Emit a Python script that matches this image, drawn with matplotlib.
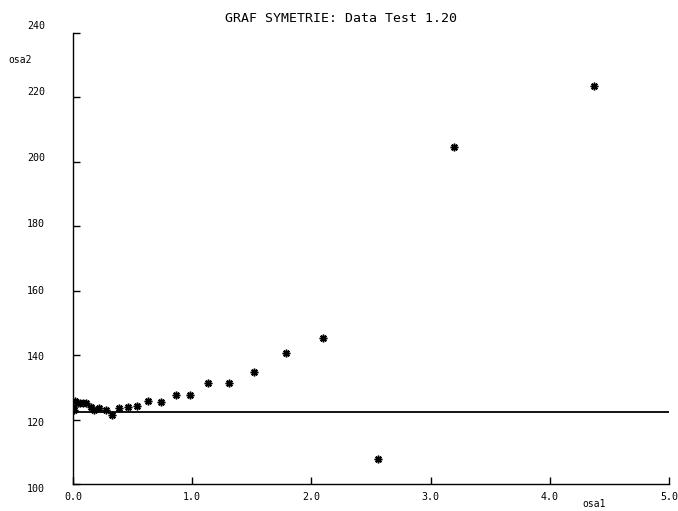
import matplotlib
matplotlib.use("Agg")
import matplotlib.pyplot as plt
from matplotlib.transforms import ScaledTranslation

# Data
osa1 = [0.00, 0.01, 0.02, 0.04, 0.06, 0.08, 0.11, 0.15, 0.18, 0.22, 0.28,
        0.33, 0.39, 0.46, 0.54, 0.63, 0.74, 0.86, 0.98, 1.13, 1.31, 1.52,
        1.79, 2.10, 2.56, 3.20, 4.37]
osa2 = [124.0, 123.0, 125.8, 125.2, 125.2, 125.2, 125.2, 123.9, 123.0, 123.6, 123.0,
        121.4, 123.6, 123.9, 124.2, 125.8, 125.5, 127.6, 127.6, 131.4, 131.4, 134.8,
        140.7, 145.3, 107.8, 204.7, 223.6]
ref_level = 122.4

x_ticks = [0, 1, 2, 3, 4, 5]
x_labels = ["0.0", "1.0", "2.0", "3.0", "4.0", "5.0"]
y_ticks = [100, 120, 140, 160, 180, 200, 220, 240]
y_labels = ["100", "120", "140", "160", "180", "200", "220", "240"]

title = "GRAF SYMETRIE: Data Test 1.20"

mono = ["DejaVu Sans Mono"]

fig = plt.figure(figsize=(6.78, 5.11), dpi=100)
ax = fig.add_axes([73/678, 27/511, (669-73)/678, (484-33)/511])

ax.set_xlim(0, 5)
ax.set_ylim(100, 240)

ax.plot(osa1, osa2, linestyle="none", marker=(8, 2, 0), markersize=5.5,
        markeredgewidth=1.1, color="black")
ax.plot(osa1, osa2, linestyle="none", marker="o", markersize=2.2, color="black")
ax.hlines(ref_level, 0, 5, color="black", linewidth=1.3)

for s in ["top", "right"]:
    ax.spines[s].set_visible(False)
for s in ["left", "bottom"]:
    ax.spines[s].set_linewidth(1.0)
    ax.spines[s].set_color("black")

ax.set_xticks(x_ticks)
ax.set_xticklabels(x_labels, family=mono, fontsize=7.2)
ax.set_yticks(y_ticks)
ax.set_yticklabels(y_labels, family=mono, fontsize=7.2)
ax.tick_params(axis="x", direction="in", length=5, width=1, pad=5.5)
ax.tick_params(axis="y", direction="in", length=5, width=1, pad=20)

# the original program spaces its y labels slightly wider than its ticks
for v, lab in zip(y_ticks, ax.get_yticklabels()):
    shift_px = 8 - (240 - v) / 140 * 12
    lab.set_transform(lab.get_transform() +
                      ScaledTranslation(0, shift_px / 100, fig.dpi_scale_trans))

fig.text(341/678, 1 - 18/511, title, ha="center", va="center",
         family=mono, fontsize=9.5)
fig.text(20/678, 1 - 60/511, "osa2", ha="center", va="center",
         family=mono, fontsize=7)
fig.text(594/678, 1 - 504/511, "osa1", ha="center", va="center",
         family=mono, fontsize=7)

fig.savefig("out.png", dpi=100)
